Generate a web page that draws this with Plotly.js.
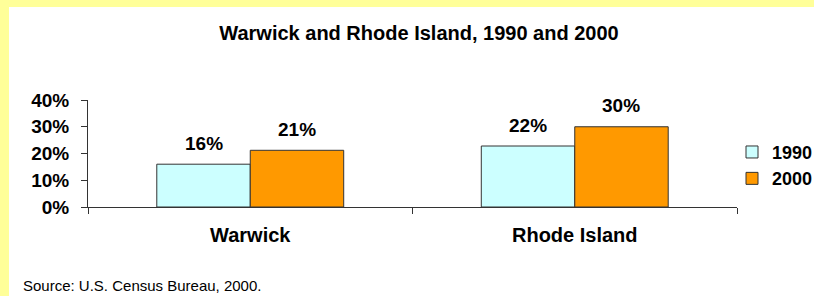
<!DOCTYPE html>
<html>
<head>
<meta charset="utf-8">
<script src="https://cdn.plot.ly/plotly-3.0.1.min.js"></script>
<style>
  html, body { margin: 0; padding: 0; background: #FFFF99; width: 814px; height: 296px; overflow: hidden; }
  #chart { position: absolute; left: 9px; top: 7px; width: 805px; height: 289px; background: #ffffff; }
</style>
</head>
<body>
<div id="chart"></div>
<script>
// ---- data ----
const categories = ["Warwick", "Rhode Island"];
const seriesNames = ["1990", "2000"];
const values1990 = [0.16, 0.228];
const values2000 = [0.212, 0.30];
const labels1990 = ["16%", "22%"];
const labels2000 = ["21%", "30%"];
const yTickVals = [0, 0.1, 0.2, 0.3, 0.4];
const yTickText = ["0%", "10%", "20%", "30%", "40%"];
const titleText = "Warwick and Rhode Island, 1990 and 2000";
const sourceText = "Source: U.S. Census Bureau, 2000.";

// ---- style ----
const FONT = "Liberation Sans, Arial, sans-serif";
const colors = ["#CCFFFF", "#FF9900"];
const W = 805, H = 289;
const margin = { l: 79, r: 77, t: 93, b: 89 };
const bargap = 0.424;
const plotW = W - margin.l - margin.r;
const catW = plotW / categories.length;
const barW = catW * (1 - bargap) / 2;

const traces = [
  { type: "bar", name: seriesNames[0], x: categories, y: values1990,
    marker: { color: colors[0], line: { color: "#333333", width: 1 } } },
  { type: "bar", name: seriesNames[1], x: categories, y: values2000,
    marker: { color: colors[1], line: { color: "#333333", width: 1 } } }
];

const annotations = [];
[[values1990, labels1990, -barW / 2], [values2000, labels2000, barW / 2]].forEach(([vals, labs, dx]) => {
  vals.forEach((v, i) => {
    annotations.push({
      xref: "x", yref: "y", x: categories[i], y: v, text: labs[i],
      showarrow: false, xshift: dx, yshift: 21, yanchor: "middle",
      font: { family: FONT, size: 19, color: "#000", weight: "bold" }
    });
  });
});
annotations.push({
  xref: "paper", yref: "paper", x: (12 - margin.l) / plotW, y: (H - margin.b - 278) / (H - margin.t - margin.b),
  xanchor: "left", yanchor: "middle", showarrow: false, text: sourceText,
  font: { family: FONT, size: 15, color: "#000" }
});

const layout = {
  width: W, height: H,
  margin: Object.assign({ autoexpand: false, pad: 0 }, margin),
  paper_bgcolor: "#ffffff", plot_bgcolor: "#ffffff",
  barmode: "group", bargap: bargap, bargroupgap: 0,
  showlegend: true,
  title: { text: titleText, x: 410 / W, xref: "container", y: 1 - 26 / H, yref: "container",
           xanchor: "center", yanchor: "middle",
           font: { family: FONT, size: 20, color: "#000", weight: "bold" } },
  xaxis: {
    type: "category", showgrid: false, zeroline: false,
    showline: true, linecolor: "#333333", linewidth: 1,
    ticks: "outside", tickson: "boundaries", ticklen: 6, tickcolor: "#333333",
    ticklabelstandoff: 10,
    tickfont: { family: FONT, size: 20, color: "#000", weight: "bold" }
  },
  yaxis: {
    range: [0, 0.4], showgrid: false, zeroline: false,
    showline: true, linecolor: "#333333", linewidth: 1,
    ticks: "outside", ticklen: 6, tickcolor: "#333333",
    tickvals: yTickVals, ticktext: yTickText, ticklabelstandoff: 8,
    tickfont: { family: FONT, size: 19, color: "#000", weight: "bold" }
  },
  legend: {
    x: (723 - margin.l) / plotW, xanchor: "left", y: 0.39, yanchor: "middle",
    bgcolor: "rgba(0,0,0,0)", borderwidth: 0,
    font: { family: FONT, size: 18, color: "#000", weight: "bold" },
    tracegroupgap: 0
  },
  annotations: annotations,
  hovermode: false
};

Plotly.newPlot("chart", traces, layout, { displayModeBar: false, staticPlot: true });
</script>
</body>
</html>
